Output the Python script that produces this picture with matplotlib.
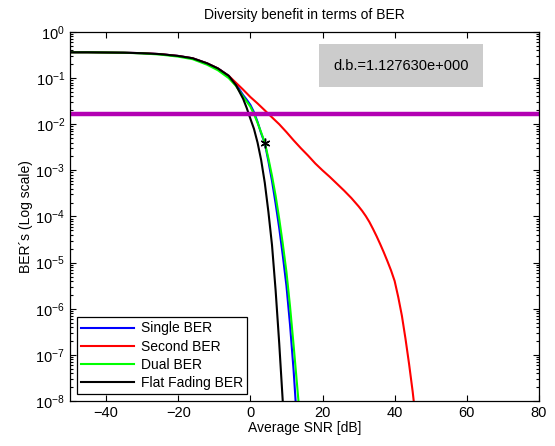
import matplotlib
matplotlib.use("Agg")
import matplotlib.pyplot as plt
from matplotlib.ticker import LogLocator, NullFormatter

plt.rcParams['font.family'] = ['Liberation Sans', 'DejaVu Sans']
plt.rcParams['mathtext.fontset'] = 'custom'
plt.rcParams['mathtext.rm'] = 'Liberation Sans'
plt.rcParams['mathtext.it'] = 'Liberation Sans'

# Average SNR [dB] and BER values for each curve
snr_flat = [-50, -45, -40, -35, -30, -25, -20, -16, -12, -9, -6, -4, -2, -1, 0,
            1, 2, 3, 4, 5, 6, 7, 8, 9, 10]
ber_flat = [3.63e-1, 3.63e-1, 3.59e-1, 3.55e-1, 3.47e-1, 3.31e-1, 3.02e-1, 2.69e-1,
            2.09e-1, 1.62e-1, 1.12e-1, 7.08e-2, 3.55e-2, 2.24e-2, 1.32e-2,
            7.94e-3, 3.98e-3, 1.66e-3, 5.37e-4, 1.26e-4, 2.40e-5, 2.51e-6,
            1.78e-7, 9.33e-9, 3.98e-10]

snr_single = [-50, -45, -40, -35, -30, -25, -20, -16, -12, -9, -6, -4, -2, -1, 0,
              1, 2, 3, 4, 5, 6, 7, 8, 9, 10, 11, 12, 13]
ber_single = [3.63e-1, 3.63e-1, 3.59e-1, 3.55e-1, 3.47e-1, 3.31e-1, 3.02e-1, 2.69e-1,
              2.09e-1, 1.62e-1, 1.12e-1, 7.41e-2, 4.27e-2, 3.39e-2, 2.63e-2,
              1.82e-2, 1.12e-2, 6.31e-3, 3.89e-3, 1.58e-3, 5.89e-4, 1.91e-4,
              5.62e-5, 1.41e-5, 3.16e-6, 4.47e-7, 4.47e-8, 2.82e-9]

snr_dual = [-50, -45, -40, -35, -30, -25, -20, -16, -12, -9, -6, -4, -2, 0,
            1, 2, 3, 4, 5, 6, 7, 8, 9, 10, 11, 12, 13, 14]
ber_dual = [3.63e-1, 3.63e-1, 3.59e-1, 3.55e-1, 3.43e-1, 3.24e-1, 2.92e-1, 2.57e-1,
            1.95e-1, 1.48e-1, 1.00e-1, 6.76e-2, 3.98e-2, 2.40e-2,
            1.66e-2, 1.07e-2, 6.61e-3, 3.98e-3, 1.82e-3, 7.59e-4, 2.82e-4,
            8.91e-5, 2.51e-5, 6.31e-6, 1.12e-6, 1.58e-7, 2.00e-8, 2.51e-9]

snr_second = [-50, -45, -40, -35, -30, -25, -20, -16, -12, -9, -6, -4, -2, 0, 2, 4,
              6, 8, 10, 12, 14, 16, 18, 20, 22, 24, 26, 28, 30, 31, 32, 33, 34,
              35, 36, 37, 38, 39, 40, 41, 42, 43, 44, 45, 46]
ber_second = [3.63e-1, 3.63e-1, 3.59e-1, 3.55e-1, 3.47e-1, 3.31e-1, 3.02e-1, 2.69e-1,
              2.09e-1, 1.62e-1, 1.12e-1, 7.94e-2, 5.62e-2, 3.89e-2, 2.82e-2,
              2.00e-2, 1.41e-2, 1.00e-2, 6.76e-3, 4.47e-3, 3.02e-3, 2.09e-3,
              1.41e-3, 1.00e-3, 7.24e-4, 5.13e-4, 3.63e-4, 2.51e-4, 1.66e-4,
              1.32e-4, 1.02e-4, 7.59e-5, 5.37e-5, 3.72e-5, 2.51e-5, 1.66e-5,
              1.07e-5, 6.76e-6, 3.98e-6, 1.78e-6, 7.08e-7, 2.24e-7, 6.31e-8,
              1.58e-8, 3.16e-9]

threshold_ber = 1.64e-2
marker_snr = [4.0]
marker_ber = [3.89e-3]
benefit_text = "d.b.=1.127630e+000"

fig = plt.figure(figsize=(5.55, 4.46), dpi=100)
ax = fig.add_axes([0.1261, 0.1009, 0.845, 0.8274])

lw = 1.5
ax.plot(snr_single, ber_single, color=(0, 0, 1), lw=lw, label='Single BER')
ax.plot(snr_second, ber_second, color=(1, 0, 0), lw=lw, label='Second BER')
ax.plot(snr_dual, ber_dual, color=(0, 1, 0), lw=lw, label='Dual BER')
ax.plot(snr_flat, ber_flat, color='black', lw=lw, label='Flat Fading BER')
ax.axhline(threshold_ber, color=(0.7, 0, 0.7), lw=3.2)
ax.plot(marker_snr, marker_ber, linestyle='none', marker=(6, 2, 0),
        color='black', ms=7, mew=1.0)

ax.set_yscale('log')
ax.set_xlim(-50, 80)
ax.set_ylim(1e-8, 1)
ax.set_xticks([-40, -20, 0, 20, 40, 60, 80])
ax.yaxis.set_major_locator(LogLocator(base=10, numticks=20))
ax.yaxis.set_minor_locator(LogLocator(base=10, subs=range(2, 10), numticks=20))
ax.yaxis.set_minor_formatter(NullFormatter())

ax.tick_params(which='both', direction='in', top=True, right=True,
               labelsize=10.5, width=0.8)
ax.tick_params(which='major', length=4)
ax.tick_params(which='minor', length=2)
for s in ax.spines.values():
    s.set_linewidth(0.9)

ax.set_title('Diversity benefit in terms of BER', fontsize=10, pad=9)
ax.set_xlabel('Average SNR [dB]', fontsize=10, labelpad=1)
ax.set_ylabel('BER´s (Log scale)', fontsize=10, labelpad=2)

ax.text(0.706, 0.909, benefit_text, transform=ax.transAxes, ha='center',
        va='center', fontsize=10.5,
        bbox=dict(facecolor='#cccccc', edgecolor='none', pad=10.5))

leg = ax.legend(loc='lower left', fontsize=10, frameon=True, fancybox=False,
                edgecolor='black', framealpha=1, handlelength=3.8,
                borderaxespad=0.5, labelspacing=0.3, borderpad=0.3,
                handletextpad=0.5)
leg.get_frame().set_linewidth(0.9)

fig.savefig('out.png', dpi=100)
